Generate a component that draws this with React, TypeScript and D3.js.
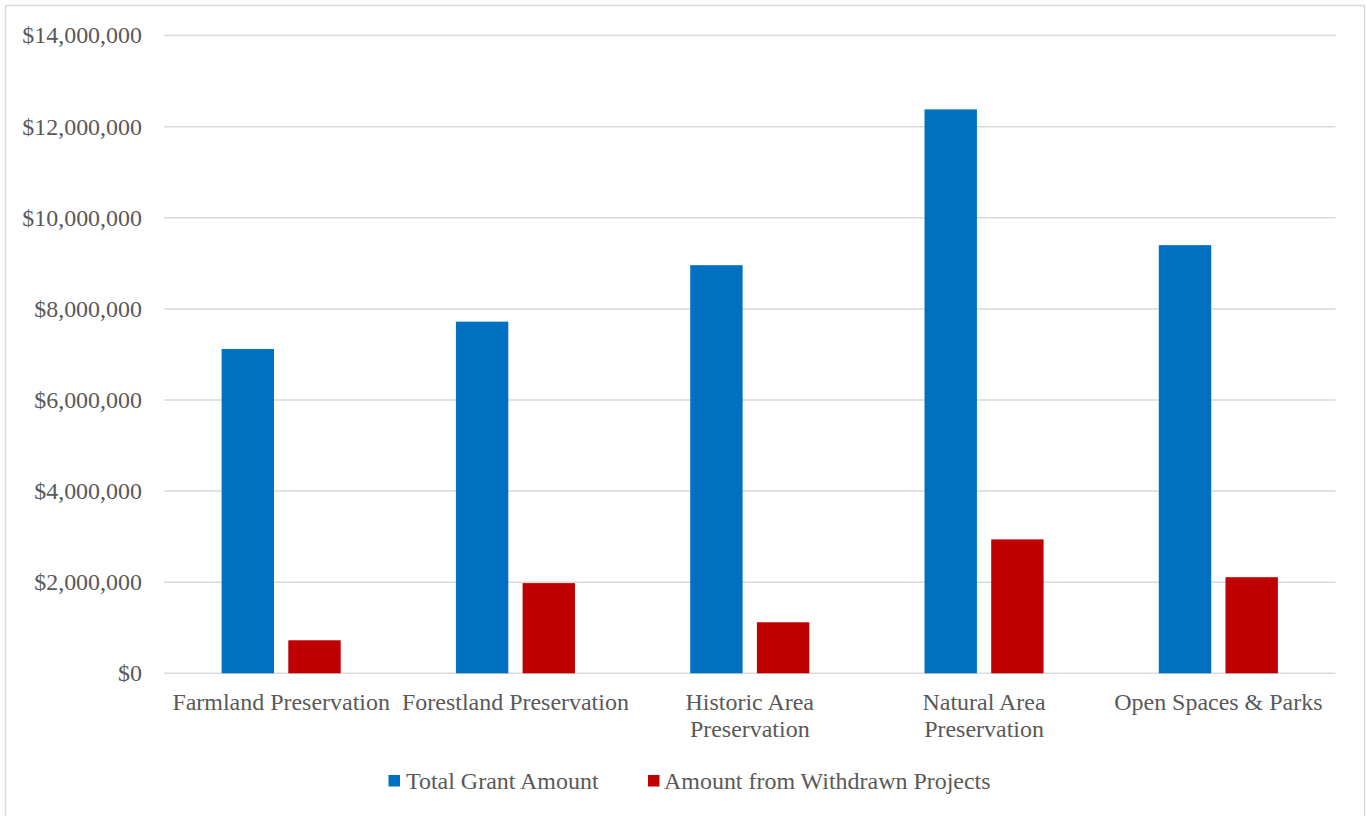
import React from "react";
import * as d3 from "d3";

const categories: string[][] = [
  ["Farmland Preservation"],
  ["Forestland Preservation"],
  ["Historic Area", "Preservation"],
  ["Natural Area", "Preservation"],
  ["Open Spaces & Parks"],
];
const totalGrant: number[] = [7120000, 7720000, 8960000, 12380000, 9400000];
const withdrawn: number[] = [725000, 1980000, 1120000, 2940000, 2110000];
const seriesNames: string[] = ["Total Grant Amount", "Amount from Withdrawn Projects"];
const seriesColors: string[] = ["#0070C0", "#C00000"];
const yTicks: number[] = [0, 2000000, 4000000, 6000000, 8000000, 10000000, 12000000, 14000000];

const W = 1367;
const H = 816;
const plotLeft = 164;
const plotRight = 1335.5;
const plotTop = 35.6;
const plotBottom = 673.3;
const FONT = "'Liberation Serif', 'Times New Roman', serif";
const TEXT = "#595959";
const FS = 22.5;
const SX = 1.065;

function SText(props: {
  x: number;
  y: number;
  anchor?: "start" | "middle" | "end";
  sx?: number;
  dy?: string;
  children: React.ReactNode;
}) {
  const sx = props.sx ?? SX;
  return (
    <text
      transform={`translate(${props.x},${props.y}) scale(${sx},1)`}
      dy={props.dy}
      textAnchor={props.anchor ?? "start"}
      fontFamily={FONT}
      fontSize={FS}
      fill={TEXT}
    >
      {props.children}
    </text>
  );
}

export default function App() {
  const x = d3
    .scaleBand<number>()
    .domain(d3.range(categories.length))
    .range([plotLeft, plotRight])
    .paddingInner(0)
    .paddingOuter(0);
  const y = d3.scaleLinear().domain([0, 14000000]).range([plotBottom, plotTop]);
  const bw = x.bandwidth();
  const barW = bw * 0.2236;
  const gap = bw * 0.061;
  const fmt = (v: number) => "$" + d3.format(",")(v);
  const series = [totalGrant, withdrawn];

  return (
    <svg
      width={W}
      height={H}
      style={{ position: "absolute", left: 0, top: 0, background: "#fff" }}
    >
      <rect x={5.5} y={5.5} width={1359} height={840} fill="#fff" stroke="#D9D9D9" strokeWidth={1.5} />
      {yTicks.map((t) => (
        <g key={t}>
          <line x1={plotLeft} x2={plotRight} y1={y(t)} y2={y(t)} stroke="#D9D9D9" strokeWidth={1.5} />
          <SText x={142} y={y(t)} dy="0.35em" anchor="end">
            {fmt(t)}
          </SText>
        </g>
      ))}
      {series.map((vals, si) =>
        vals.map((v, i) => {
          const center = (x(i) as number) + bw / 2;
          const left = si === 0 ? center - gap / 2 - barW : center + gap / 2;
          return (
            <rect
              key={si + "-" + i}
              x={left}
              y={y(v)}
              width={barW}
              height={plotBottom - y(v)}
              fill={seriesColors[si]}
            />
          );
        })
      )}
      {categories.map((lines, i) =>
        lines.map((l, j) => (
          <SText key={i + "-" + j} x={(x(i) as number) + bw / 2} y={709.5 + j * 27} anchor="middle">
            {l}
          </SText>
        ))
      )}
      <g>
        <rect x={388.5} y={775} width={11.5} height={11.5} fill={seriesColors[0]} />
        <SText x={406} y={788.5}>
          {seriesNames[0]}
        </SText>
        <rect x={648} y={775} width={11.5} height={11.5} fill={seriesColors[1]} />
        <SText x={664} y={788.5}>
          {seriesNames[1]}
        </SText>
      </g>
    </svg>
  );
}
